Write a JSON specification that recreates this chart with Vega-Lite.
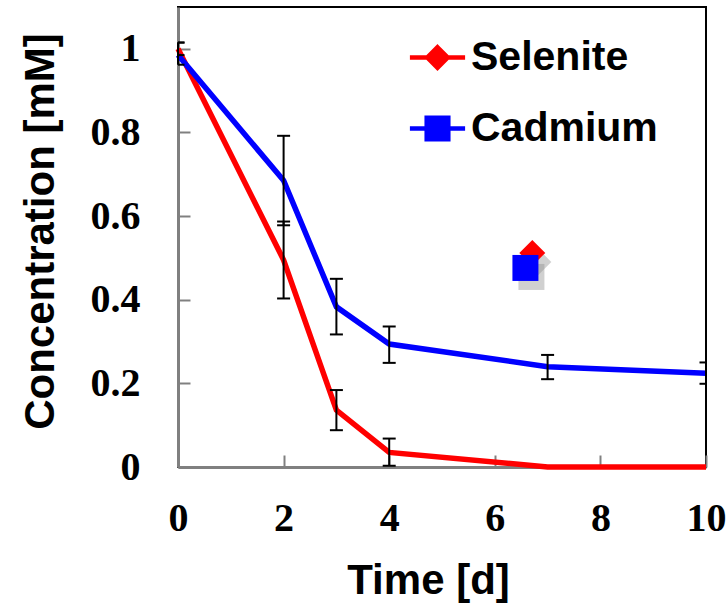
{
  "$schema": "https://vega.github.io/schema/vega-lite/v6.json",
  "width": 528,
  "height": 460,
  "autosize": {"type": "none"},
  "padding": {"left": 178, "top": 7, "right": 22, "bottom": 138},
  "background": "white",
  "config": {
    "view": {"stroke": "black", "strokeWidth": 2},
    "axis": {
      "grid": false,
      "domainColor": "#808080",
      "domainWidth": 3,
      "tickColor": "#808080",
      "tickWidth": 2,
      "tickSize": -12,
      "labelFlush": false,
      "labelFont": "Liberation Serif",
      "labelFontWeight": "bold",
      "labelFontSize": 40,
      "labelColor": "black",
      "titleFont": "Liberation Sans",
      "titleFontWeight": "bold",
      "titleFontSize": 42,
      "titleColor": "black"
    }
  },
  "datasets": {
    "main": [
      {"series": "Selenite", "t": 0, "c": 1.0, "lo": 0.985, "hi": 1.015},
      {"series": "Selenite", "t": 2, "c": 0.495, "lo": 0.403, "hi": 0.587},
      {"series": "Selenite", "t": 3, "c": 0.136, "lo": 0.088, "hi": 0.184},
      {"series": "Selenite", "t": 4, "c": 0.035, "lo": 0.003, "hi": 0.068},
      {"series": "Selenite", "t": 7, "c": 0.0, "lo": null, "hi": null},
      {"series": "Selenite", "t": 10, "c": 0.0, "lo": null, "hi": null},
      {"series": "Cadmium", "t": 0, "c": 0.985, "lo": 0.962, "hi": 1.015},
      {"series": "Cadmium", "t": 2, "c": 0.685, "lo": 0.578, "hi": 0.792},
      {"series": "Cadmium", "t": 3, "c": 0.383, "lo": 0.317, "hi": 0.45},
      {"series": "Cadmium", "t": 4, "c": 0.294, "lo": 0.249, "hi": 0.336},
      {"series": "Cadmium", "t": 7, "c": 0.24, "lo": 0.21, "hi": 0.268},
      {"series": "Cadmium", "t": 10, "c": 0.224, "lo": 0.199, "hi": 0.25}
    ],
    "stray": [
      {"series": "Selenite", "t": 6.71, "c": 0.512},
      {"series": "Cadmium", "t": 6.58, "c": 0.476}
    ]
  },
  "layer": [
    {
      "data": {"name": "stray"},
      "transform": [{"filter": "datum.series === 'Selenite'"}],
      "mark": {"type": "point", "shape": "diamond", "filled": true, "size": 676, "color": "#8a8a8a", "opacity": 0.4, "xOffset": 6, "yOffset": 9},
      "encoding": {
        "x": {"field": "t", "type": "quantitative"},
        "y": {"field": "c", "type": "quantitative"}
      }
    },
    {
      "data": {"name": "stray"},
      "transform": [{"filter": "datum.series === 'Cadmium'"}],
      "mark": {"type": "point", "shape": "square", "filled": true, "size": 676, "color": "#8a8a8a", "opacity": 0.4, "xOffset": 6, "yOffset": 9},
      "encoding": {
        "x": {"field": "t", "type": "quantitative"},
        "y": {"field": "c", "type": "quantitative"}
      }
    },
    {
      "data": {"name": "main"},
      "mark": {"type": "line", "strokeWidth": 5.5},
      "encoding": {
        "x": {
          "field": "t", "type": "quantitative",
          "scale": {"domain": [0, 10], "nice": false},
          "axis": {"values": [0, 2, 4, 6, 8, 10], "format": "d", "labelPadding": 43, "title": "Time [d]", "titleX": 250, "titleY": 126, "titleBaseline": "alphabetic", "titleAlign": "center"}
        },
        "y": {
          "field": "c", "type": "quantitative",
          "scale": {"domain": [0, 1.1], "nice": false},
          "axis": {"values": [0, 0.2, 0.4, 0.6, 0.8, 1], "format": ".1~f", "labelPadding": 50, "title": "Concentration [mM]", "titleX": -125, "titleY": 224, "titleAngle": -90, "titleBaseline": "alphabetic", "titleAlign": "center"}
        },
        "color": {
          "field": "series", "type": "nominal",
          "scale": {"domain": ["Selenite", "Cadmium"], "range": ["#ff0000", "#0000ff"]},
          "legend": {
            "orient": "none", "legendX": 239, "legendY": 30, "title": null, "padding": 0,
            "labelFont": "Liberation Sans", "labelFontWeight": "bold", "labelFontSize": 41, "labelColor": "black",
            "labelLimit": 400,
            "labelOffset": 13, "rowPadding": 29, "symbolSize": 576, "symbolStrokeWidth": 4.5,
            "encode": {"symbols": {"update": {
              "shape": {"signal": "datum.value === 'Selenite' ? 'M-2.3,0H2.3M0,-0.85L0.85,0L0,0.85L-0.85,0Z' : 'M-2.3,0H2.3M-0.9,-0.9H0.9V0.9H-0.9Z'"},
              "fill": {"signal": "datum.value === 'Selenite' ? '#ff0000' : '#0000ff'"},
              "stroke": {"signal": "datum.value === 'Selenite' ? '#ff0000' : '#0000ff'"},
              "strokeWidth": {"value": 4.5},
              "size": {"value": 576},
              "opacity": {"value": 1},
              "fillOpacity": {"value": 1}
            }}}
          }
        }
      }
    },
    {
      "data": {"name": "stray"},
      "transform": [{"filter": "datum.series === 'Selenite'"}],
      "mark": {"type": "point", "shape": "diamond", "filled": true, "size": 676, "opacity": 1, "color": "#ff0000"},
      "encoding": {
        "x": {"field": "t", "type": "quantitative"},
        "y": {"field": "c", "type": "quantitative"}
      }
    },
    {
      "data": {"name": "stray"},
      "transform": [{"filter": "datum.series === 'Cadmium'"}],
      "mark": {"type": "point", "shape": "square", "filled": true, "size": 676, "opacity": 1, "color": "#0000ff"},
      "encoding": {
        "x": {"field": "t", "type": "quantitative"},
        "y": {"field": "c", "type": "quantitative"}
      }
    },
    {
      "data": {"name": "main"},
      "mark": {"type": "rule", "color": "black", "strokeWidth": 2},
      "encoding": {
        "x": {"field": "t", "type": "quantitative"},
        "y": {"field": "lo", "type": "quantitative"},
        "y2": {"field": "hi"}
      }
    },
    {
      "data": {"name": "main"},
      "mark": {"type": "tick", "orient": "horizontal", "color": "black", "size": 13, "thickness": 2, "opacity": 1, "clip": true},
      "encoding": {
        "x": {"field": "t", "type": "quantitative"},
        "y": {"field": "lo", "type": "quantitative"}
      }
    },
    {
      "data": {"name": "main"},
      "mark": {"type": "tick", "orient": "horizontal", "color": "black", "size": 13, "thickness": 2, "opacity": 1, "clip": true},
      "encoding": {
        "x": {"field": "t", "type": "quantitative"},
        "y": {"field": "hi", "type": "quantitative"}
      }
    }
  ]
}
